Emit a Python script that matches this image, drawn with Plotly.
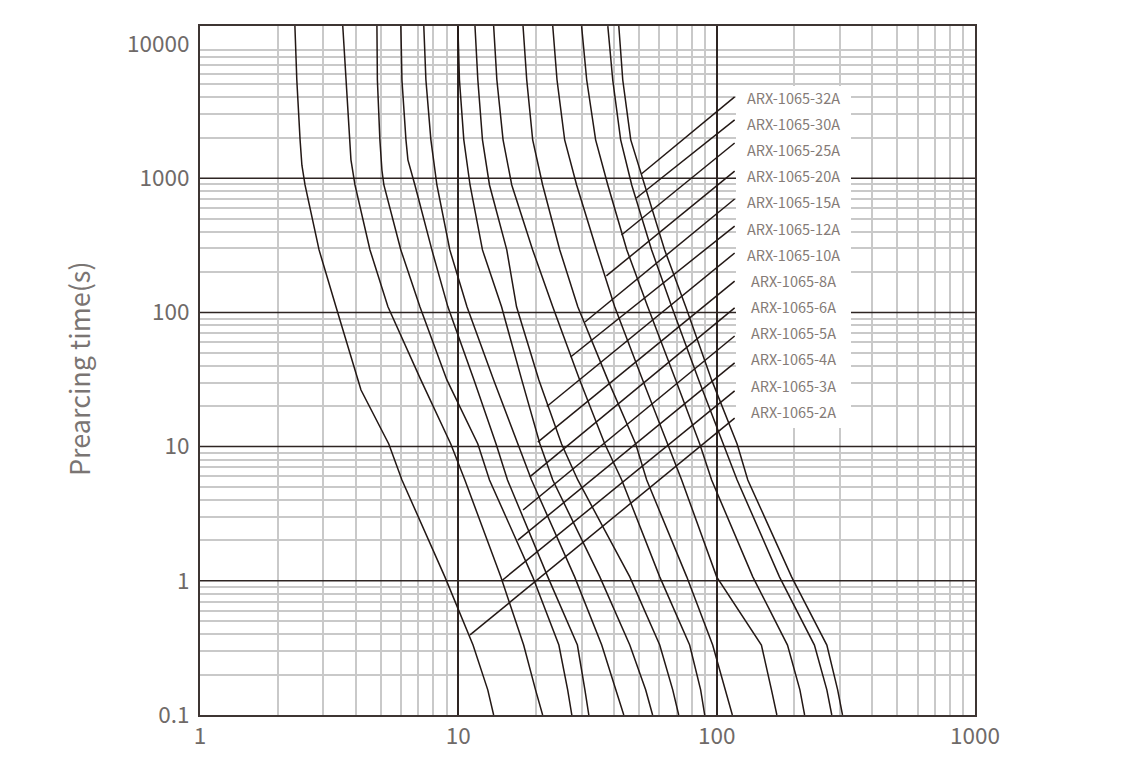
import plotly.graph_objects as go

# ---------------- data (current in A, prearcing time in s) ----------------
ratings = ["ARX-1065-2A", "ARX-1065-3A", "ARX-1065-4A", "ARX-1065-5A", "ARX-1065-6A",
           "ARX-1065-8A", "ARX-1065-10A", "ARX-1065-12A", "ARX-1065-15A", "ARX-1065-20A",
           "ARX-1065-25A", "ARX-1065-30A", "ARX-1065-32A"]

t_common = [13600, 5390, 1930, 890, 292, 110, 31.4, 10.45, 5.64, 1.07, 0.332, 0.154, 0.1]

i_2a = [2.33, 2.37, 2.44, 2.48, 2.55, 2.89, 3.36, 4.20, 5.38, 6.05, 8.87, 10.1, 11.4, 13.0, 13.7]
t_2a = [13600, 5390, 1930, 1250, 890, 292, 110, 26.4, 10.45, 5.64, 1.07, 0.576, 0.332, 0.154, 0.1]

i_3a = [3.57, 3.67, 3.80, 3.84, 3.98, 4.55, 5.34, 7.16, 9.35, 10.6, 14.6, 15.8, 17.9, 19.9, 21.2]
t_3a = [13600, 5390, 1930, 1370, 890, 292, 110, 31.4, 10.45, 5.64, 1.07, 0.683, 0.332, 0.154, 0.1]

i_4a = [4.84, 4.86, 4.97, 5.06, 5.15, 5.99, 7.10, 9.03, 11.9, 13.2, 19.4, 24.5, 26.5, 27.5]
t_4a = [13600, 5390, 1930, 1150, 890, 292, 110, 31.4, 10.45, 5.64, 1.07, 0.332, 0.154, 0.1]

i_5a = [5.99, 6.05, 6.27, 6.38, 6.79, 7.90, 9.11, 11.5, 14.0, 15.5, 22.2, 28.9, 30.9, 32.0]
t_5a = [13600, 5390, 1930, 1370, 890, 292, 110, 31.4, 10.45, 5.64, 1.07, 0.332, 0.154, 0.1]

i_6a = [7.35, 7.49, 7.83, 8.26, 9.27, 10.8, 13.7, 17.0, 19.2, 28.2, 35.9, 40.7, 43.7]
i_8a = [9.96, 10.1, 10.5, 11.1, 12.4, 14.7, 17.6, 20.7, 23.2, 35.3, 46.1, 53.1, 56.5]
i_10a = [11.6, 11.9, 12.4, 13.2, 15.4, 16.8, 20.5, 25.1, 29.0, 46.1, 60.2, 67.6, 71.3]
i_12a = [13.7, 14.1, 14.9, 16.1, 19.4, 23.2, 29.5, 36.9, 42.9, 60.2, 78.6, 86.7, 89.9]
i_15a = [17.8, 18.4, 19.4, 21.2, 24.7, 29.0, 37.9, 48.6, 53.6, 76.6, 96.5, 108, 115]
i_20a = [23.2, 24.1, 25.8, 28.7, 34.3, 40.3, 51.7, 64.6, 73.2, 100, 149, 163, 171]
i_25a = [30.0, 31.4, 34.0, 37.9, 44.9, 54.1, 69.4, 86.0, 95.6, 138, 188, 210, 219]
i_30a = [37.9, 39.6, 42.5, 46.9, 56.0, 67.0, 85.2, 106, 120, 175, 239, 267, 279]
i_32a = [41.8, 43.3, 46.5, 52.7, 62.9, 75.9, 95.6, 120, 132, 195, 267, 294, 307]

curves = [
    (i_2a, t_2a), (i_3a, t_3a), (i_4a, t_4a), (i_5a, t_5a),
    (i_6a, t_common), (i_8a, t_common), (i_10a, t_common), (i_12a, t_common),
    (i_15a, t_common), (i_20a, t_common), (i_25a, t_common), (i_30a, t_common),
    (i_32a, t_common),
]

# leader lines (label order top -> bottom: 32A ... 2A)
label_order = ["ARX-1065-32A", "ARX-1065-30A", "ARX-1065-25A", "ARX-1065-20A",
               "ARX-1065-15A", "ARX-1065-12A", "ARX-1065-10A", "ARX-1065-8A",
               "ARX-1065-6A", "ARX-1065-5A", "ARX-1065-4A", "ARX-1065-3A", "ARX-1065-2A"]
leader_i_start = [51.1, 48.9, 42.8, 37.4, 30.9, 27.2, 22.0, 20.3, 18.9, 17.8, 17.0, 14.8, 11.1]
leader_t_start = [1075, 712, 377, 187, 84.8, 46.5, 19.9, 10.8, 5.94, 3.37, 2.01, 1.01, 0.395]
leader_i_end = [117.4] * 13
leader_t_end = [4030, 2720, 1830, 1130, 700, 440, 277, 171, 108, 66.7, 42.0, 26.0, 16.3]

x_ticks = [1, 10, 100, 1000]
x_ticktext = ["1", "10", "100", "1000"]
y_ticks = [0.1, 1, 10, 100, 1000, 10000]
y_ticktext = ["0.1", "1", "10", "100", "1000", "10000"]
y_major_grid = [1, 10, 100, 1000]
minor_x = [k * 10 ** n for n in range(0, 3) for k in range(2, 10)]
minor_y = [round(k * 10.0 ** n, 6) for n in range(-1, 4) for k in range(2, 10)]

# ---------------- style ----------------
CURVE = "#231815"
MAJOR = "#2e2523"
MINOR = "#c9c9c9"
AXIS = "#3e3533"
TICKCOL = "#6f6a68"
LABELCOL = "#857b77"
FONT = "Noto Sans CJK JP, Noto Sans, sans-serif"

# the page body has an 8px margin: shift the figure so the plot area lands
# on the same window pixels as the reference
OFF = 8
W, H = 1122 - OFF, 771 - OFF
PL, PR, PT, PB = 200, 975, 26, 715   # plot area in window pixels

fig = go.Figure()

for v in y_major_grid:
    fig.add_trace(go.Scatter(x=[x_ticks[0], x_ticks[-1]], y=[v, v], mode="lines",
                             line=dict(color=MAJOR, width=1.5),
                             hoverinfo="skip", showlegend=False))

for name, (xi, yt) in zip(ratings, curves):
    fig.add_trace(go.Scatter(x=xi, y=yt, mode="lines", name=name,
                             line=dict(color=CURVE, width=1.5), showlegend=False))

for k in range(len(label_order)):
    fig.add_trace(go.Scatter(x=[leader_i_start[k], leader_i_end[k]],
                             y=[leader_t_start[k], leader_t_end[k]],
                             mode="lines", line=dict(color=CURVE, width=1.5),
                             hoverinfo="skip", showlegend=False))


def px_x(p):
    return (p - PL) / (PR - PL)


def px_y(p):
    return (PB - p) / (PB - PT)


fig.add_shape(type="rect", xref="paper", yref="paper",
              x0=px_x(736), x1=px_x(851), y0=px_y(428), y1=px_y(86),
              fillcolor="white", line=dict(width=0), layer="above")

for k, txt in enumerate(label_order):
    fig.add_annotation(x=px_x(793), y=px_y(97 + k * 26.2), xref="paper", yref="paper",
                       text=txt, showarrow=False, xanchor="center", yanchor="middle",
                       font=dict(family=FONT, size=14.5, color=LABELCOL))

fig.add_annotation(x=px_x(78), y=px_y(369), xref="paper", yref="paper",
                   text="Prearcing time(s)", textangle=-90, showarrow=False,
                   xanchor="center", yanchor="middle",
                   font=dict(family=FONT, size=27, color="#7a7573"))

fig.update_xaxes(type="log", range=[0, 3], tickvals=x_ticks, ticktext=x_ticktext,
                 showgrid=True, gridcolor=MAJOR, gridwidth=1.5,
                 minor=dict(tickmode="array", tickvals=minor_x, showgrid=True,
                            gridcolor=MINOR, gridwidth=1.6, ticks=""),
                 showline=True, mirror=True, linecolor=AXIS, linewidth=2,
                 ticks="", zeroline=False,
                 tickfont=dict(family=FONT, size=22.5, color=TICKCOL))
fig.update_yaxes(type="log", range=[-1, 4.134], tickvals=y_ticks, ticktext=y_ticktext,
                 showgrid=False,
                 minor=dict(tickmode="array", tickvals=minor_y, showgrid=True,
                            gridcolor=MINOR, gridwidth=1.6, ticks=""),
                 showline=True, mirror=True, linecolor=AXIS, linewidth=2,
                 ticks="", zeroline=False, ticklabelstandoff=4,
                 tickfont=dict(family=FONT, size=22.5, color=TICKCOL))

fig.update_layout(width=W, height=H,
                  margin=dict(l=PL - OFF, r=1122 - PR, t=PT - OFF, b=771 - PB),
                  plot_bgcolor="white", paper_bgcolor="white",
                  showlegend=False)

fig.write_html("out.html")
